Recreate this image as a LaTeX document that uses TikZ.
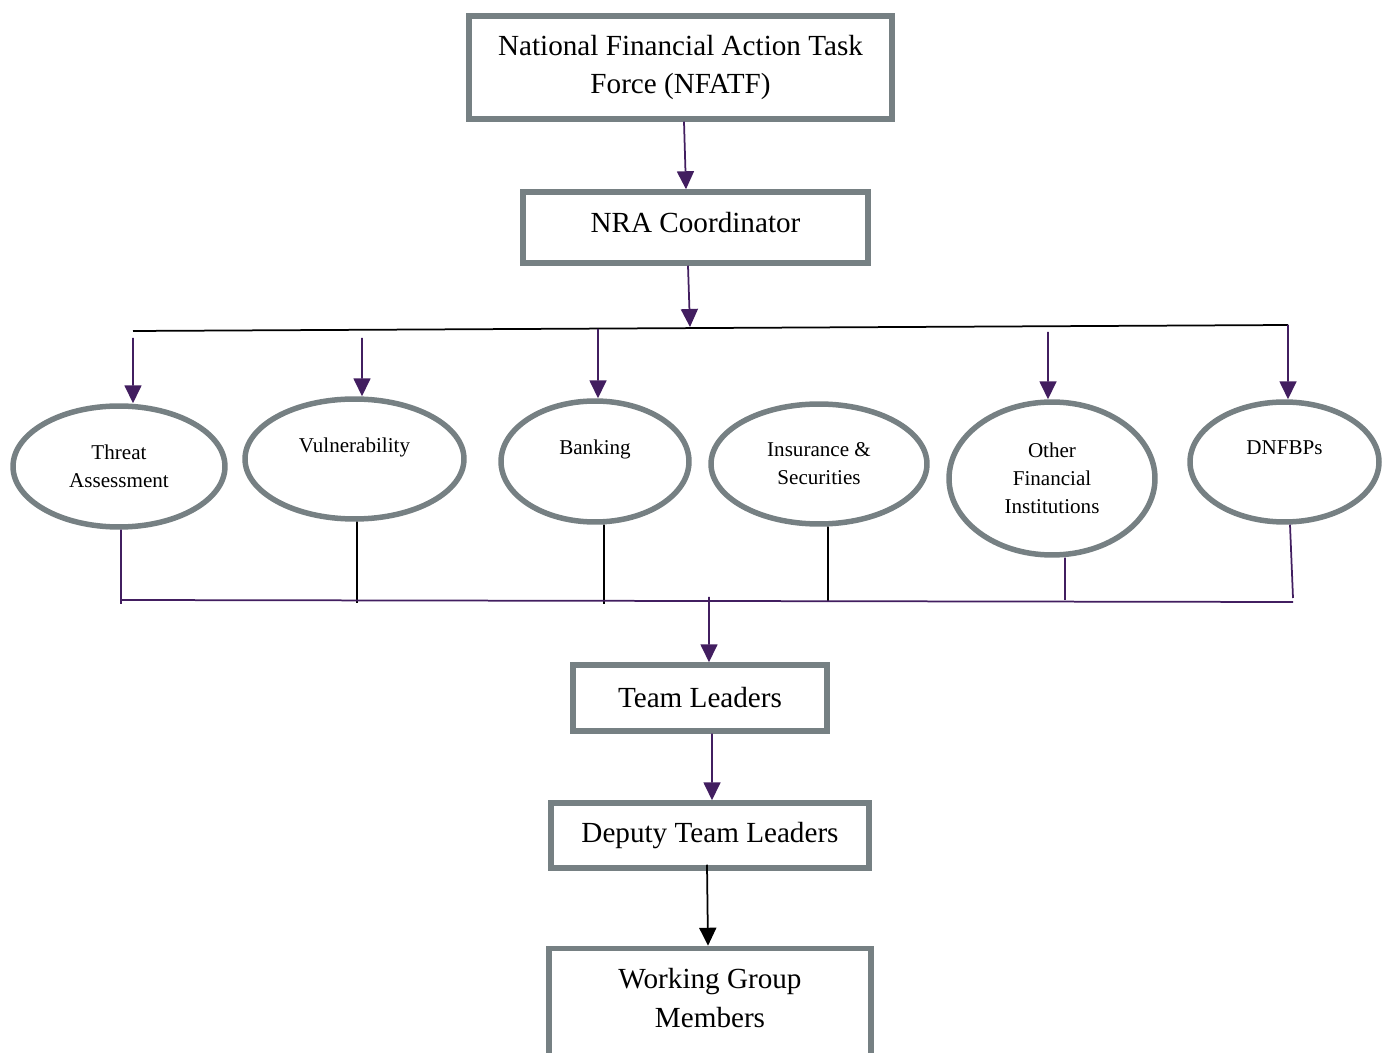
\documentclass[tikz,border=0pt]{standalone}
\usepackage{fontspec}
\setmainfont{Liberation Serif}
\usetikzlibrary{shapes.geometric,arrows.meta}
\definecolor{boxgray}{RGB}{118,128,131}
\definecolor{plum}{RGB}{66,30,96}

\begin{document}
\begin{tikzpicture}[x=0.02cm,y=-0.02cm,
  box/.style={draw=boxgray,line width=0.11cm,align=center,font=\fontsize{16.6}{22}\selectfont},
  oval/.style={ellipse,draw=boxgray,line width=0.11cm,align=center,inner sep=0pt,font=\fontsize{12}{15.9}\selectfont},
  flow/.style={plum,line width=0.035cm,-{Triangle[length=0.36cm,width=0.34cm]}},
  blackflow/.style={black,line width=0.035cm,-{Triangle[length=0.36cm,width=0.34cm]}},
  bus/.style={line width=0.035cm}]
\useasboundingbox (0,0) rectangle (1386,1053);
\clip (0,0) rectangle (1386,1053);

\node[box,minimum width=8.46cm,minimum height=2.06cm] (nfatf) at (680.5,67.5) {National Financial Action Task\\Force (NFATF)};
\node[box,minimum width=6.9cm,minimum height=1.42cm] (nra) at (695.5,227.5) {NRA Coordinator\\[-0.55cm]\mbox{}};

\node[oval,minimum width=4.24cm,minimum height=2.42cm] (threat) at (119,466.5) {Threat\\Assessment};
\node[oval,minimum width=4.38cm,minimum height=2.4cm] (vuln) at (354.5,459) {Vulnerability\\\mbox{}};
\node[oval,minimum width=3.76cm,minimum height=2.42cm] (banking) at (595,461.5) {Banking\\\mbox{}};
\node[oval,minimum width=4.32cm,minimum height=2.4cm] (insurance) at (819,464) {Insurance \&\\Securities};
\node[oval,minimum width=4.12cm,minimum height=3.06cm] (other) at (1052,478.5) {Other\\Financial\\Institutions};
\node[oval,minimum width=3.78cm,minimum height=2.4cm] (dnfbp) at (1284.5,462) {DNFBPs\\\mbox{}};

\node[box,minimum width=5.08cm,minimum height=1.32cm] (team) at (700,698) {Team Leaders};
\node[box,minimum width=6.36cm,minimum height=1.3cm] (deputy) at (710,835.5) {Deputy Team Leaders};
\node[box,minimum width=6.44cm,minimum height=2.5cm] (members) at (710,1011) {Working Group\\Members\\[-0.25cm]\mbox{}};

\coordinate (topL) at (133,331);
\coordinate (topR) at (1288,325);
\coordinate (hub) at (690,327);
\coordinate (toThreat) at (133,338);
\coordinate (toVuln) at (362,338);
\coordinate (toBanking) at (598,329);
\coordinate (toOther) at (1048,332);
\coordinate (lowL) at (121,600);
\coordinate (lowR) at (1293,602);
\coordinate (fromLow) at (709,597);

\draw[flow] ([xshift=0.07cm]nfatf.south) -- ([xshift=-0.19cm]nra.north);
\draw[flow] ([xshift=-0.15cm]nra.south) -- (hub);

\draw[bus] (topL) -- (topR);
\draw[flow] (toThreat) -- ([xshift=0.28cm]threat.north);
\draw[flow] (toVuln) -- ([xshift=0.15cm]vuln.north);
\draw[flow] (toBanking) -- ([xshift=0.06cm]banking.north);
\draw[flow] (toOther) -- ([xshift=-0.08cm]other.north);
\draw[flow] (topR) -- ([xshift=0.07cm]dnfbp.north);

\draw[bus,plum] ([xshift=0.04cm]threat.south) -- (121,604);
\draw[bus] ([xshift=0.05cm]vuln.south) -- (357,603);
\draw[bus] ([xshift=0.18cm]banking.south) -- (604,604);
\draw[bus] ([xshift=0.18cm]insurance.south) -- (828,601);
\draw[bus,plum] ([xshift=0.26cm]other.south) -- (1065,600);
\draw[bus,plum] ([xshift=0.11cm]dnfbp.south) -- (1293,598);
\draw[bus,plum] (lowL) -- (lowR);

\draw[flow] (fromLow) -- ([xshift=0.18cm]team.north);
\draw[flow] ([xshift=0.24cm]team.south) -- ([xshift=0.04cm]deputy.north);
\draw[blackflow] ([xshift=-0.06cm,yshift=0.12cm]deputy.south) -- ([xshift=-0.04cm]members.north);
\end{tikzpicture}
\end{document}
